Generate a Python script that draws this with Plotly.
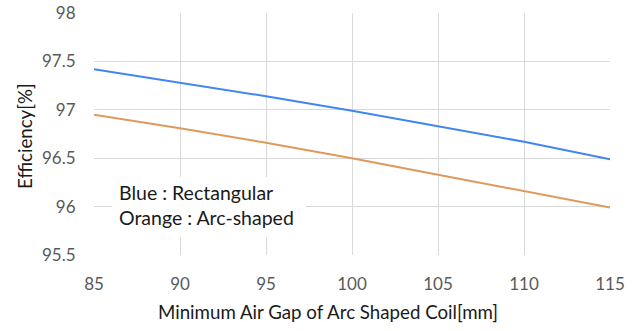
import plotly.graph_objects as go

gap_mm = [85, 90, 95, 100, 105, 110, 115]
eff_rect = [97.42, 97.28, 97.14, 96.99, 96.83, 96.67, 96.49]
eff_arc = [96.95, 96.81, 96.66, 96.50, 96.33, 96.16, 95.99]
x_ticks = [85, 90, 95, 100, 105, 110, 115]
y_ticks = [95.5, 96, 96.5, 97, 97.5, 98]

FONT = "Lato"

fig = go.Figure()
fig.add_trace(go.Scatter(x=gap_mm, y=eff_rect, mode="lines",
                         line=dict(color="#3F86F0", width=2), name="Rectangular"))
fig.add_trace(go.Scatter(x=gap_mm, y=eff_arc, mode="lines",
                         line=dict(color="#DE9A5C", width=2), name="Arc-shaped"))

fig.update_layout(
    width=641, height=331,
    margin=dict(l=94, r=31, t=13, b=76, autoexpand=False),
    paper_bgcolor="white", plot_bgcolor="white",
    showlegend=False,
    font=dict(family=FONT, color="#595959", size=17),
    xaxis=dict(range=[85, 115], tickvals=x_ticks, ticktext=[str(v) for v in x_ticks],
               showgrid=True, gridcolor="#D9D9D9", gridwidth=1, zeroline=False,
               showline=False, ticks="outside", ticklen=14, tickcolor="rgba(0,0,0,0)",
               automargin=False,
               tickfont=dict(size=17, color="#595959", family=FONT)),
    yaxis=dict(range=[95.5, 98], tickvals=y_ticks, ticktext=[str(v) for v in y_ticks],
               showgrid=True, gridcolor="#D9D9D9", gridwidth=1, zeroline=False,
               showline=False, ticks="outside", ticklen=14, tickcolor="rgba(0,0,0,0)",
               automargin=False, ticklabeloverflow="allow",
               tickfont=dict(size=17, color="#595959", family=FONT)),
)

# axis titles
fig.add_annotation(xref="paper", yref="paper", x=(328 - 94) / 516, y=-(312 - 255) / 242,
                   xanchor="center", yanchor="middle", showarrow=False,
                   text="Minimum Air Gap of Arc Shaped Coil[mm]",
                   font=dict(size=18.7, color="#1a1a1a", family=FONT))
fig.add_annotation(xref="paper", yref="paper", x=-(94 - 25) / 516, y=(255 - 136) / 242,
                   xanchor="center", yanchor="middle", showarrow=False, textangle=-90,
                   text="Efficiency[%]",
                   font=dict(size=18.7, color="#1a1a1a", family=FONT))

# text box
fig.add_shape(type="rect", xref="paper", yref="paper",
              x0=0.035, x1=0.411, y0=0.074, y1=0.322,
              fillcolor="white", line=dict(width=0), layer="above")
fig.add_annotation(xref="paper", yref="paper", x=(118 - 94) / 516, y=(255 - 180) / 242,
                   xanchor="left", yanchor="top", align="left", showarrow=False,
                   borderpad=0,
                   text="Blue : Rectangular<br>Orange : Arc-shaped",
                   font=dict(size=19.5, color="#1a1a1a", family=FONT))

# remove the default 8px page margin so the figure sits at the window's top-left
fig.write_html("out.html", config={"displayModeBar": False},
               post_script="document.body.style.margin='0px';")
